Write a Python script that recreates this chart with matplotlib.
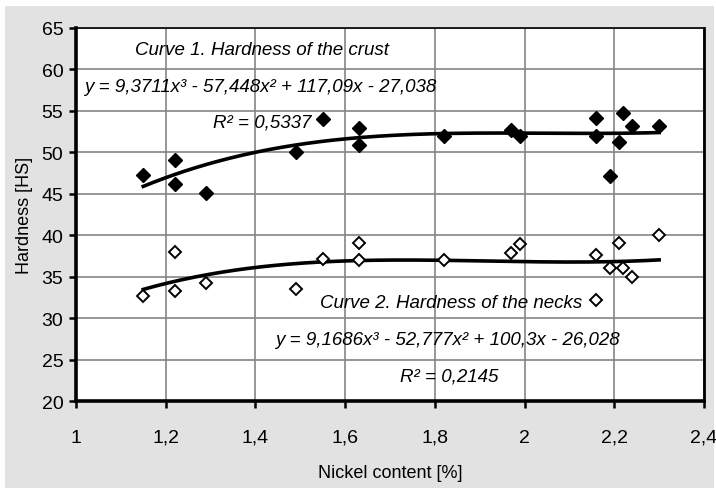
import matplotlib
matplotlib.use("Agg")
import matplotlib.pyplot as plt
import numpy as np
from matplotlib.patches import Rectangle

plt.rcParams['font.family'] = ['Liberation Sans', 'DejaVu Sans']

# Nickel content [%]
nickel = [1.15, 1.22, 1.22, 1.29, 1.49, 1.55, 1.63, 1.63, 1.82,
          1.97, 1.99, 2.16, 2.16, 2.19, 2.21, 2.22, 2.24, 2.30]
# Hardness of the crust [HS]
crust = [47.3, 49.1, 46.2, 45.1, 50.0, 54.0, 52.9, 50.9, 52.0,
         52.7, 52.0, 54.1, 52.0, 47.2, 51.3, 54.7, 53.2, 53.2]
# Hardness of the necks [HS]
necks = [32.7, 38.0, 33.3, 34.2, 33.5, 37.1, 39.1, 37.0, 37.0,
         37.8, 38.9, 37.6, 32.2, 36.0, 39.1, 36.0, 35.0, 40.0]

# cubic trend lines (coefficients from the chart labels)
crust_fit = [9.3711, -57.448, 117.09, -27.038]
necks_fit = [9.1686, -52.777, 100.3, -26.028]

xticks = [1, 1.2, 1.4, 1.6, 1.8, 2, 2.2, 2.4]
xlabels = ["1", "1,2", "1,4", "1,6", "1,8", "2", "2,2", "2,4"]
yticks = list(range(20, 66, 5))

fig = plt.figure(figsize=(7.16, 4.89), dpi=100)
bg = Rectangle((0.007, 0), 0.990, 0.9857, transform=fig.transFigure,
               facecolor="#e2e2e2", edgecolor="none", zorder=-10)
fig.patches.append(bg)

ax = fig.add_axes([0.1061, 0.1779, 0.8771, 0.7628])
ax.set_facecolor("white")

xs = np.linspace(min(nickel), max(nickel), 200)
ax.plot(xs, np.polyval(crust_fit, xs), color="black", lw=2.6, zorder=3)
ax.plot(xs, np.polyval(necks_fit, xs), color="black", lw=2.6, zorder=3)

ax.plot(nickel, crust, linestyle="none", marker="D", ms=7,
        color="black", zorder=4)
ax.plot(nickel, necks, linestyle="none", marker="D", ms=6.5,
        markerfacecolor="white", markeredgecolor="black", mew=1.4, zorder=4)

ax.set_xlim(1, 2.4)
ax.set_ylim(20, 65)
ax.set_xticks(xticks)
ax.set_xticklabels(xlabels)
ax.set_yticks(yticks)
ax.grid(True, color="#858585", lw=1.2)
ax.set_axisbelow(True)

for side, w in [("left", 2.6), ("bottom", 2.6), ("right", 2.0), ("top", 1.2)]:
    ax.spines[side].set_linewidth(w)
    ax.spines[side].set_color("black")

ax.tick_params(axis="both", direction="out", length=5, width=1.8,
               labelsize=14, colors="black")
ax.tick_params(axis="x", top=False, pad=15)
ax.tick_params(axis="y", right=False, pad=4)

ax.set_xlabel("Nickel content [%]", fontsize=13, labelpad=13)
ax.set_ylabel("Hardness [HS]", fontsize=13, labelpad=6)

tkw = dict(fontsize=13.5, style="italic", ha="center", va="center",
           transform=ax.transData)
ax.text(1.415, 62.35, "Curve 1. Hardness of the crust", **tkw)
ax.text(1.41, 57.9, "y = 9,3711x³ - 57,448x² + 117,09x - 27,038", **tkw)
ax.text(1.415, 53.7, "R² = 0,5337", **tkw)
ax.text(1.836, 31.9, "Curve 2. Hardness of the necks", **tkw)
ax.text(1.829, 27.45, "y = 9,1686x³ - 52,777x² + 100,3x - 26,028", **tkw)
ax.text(1.831, 23.0, "R² = 0,2145", **tkw)

fig.savefig("out.png", dpi=100)
